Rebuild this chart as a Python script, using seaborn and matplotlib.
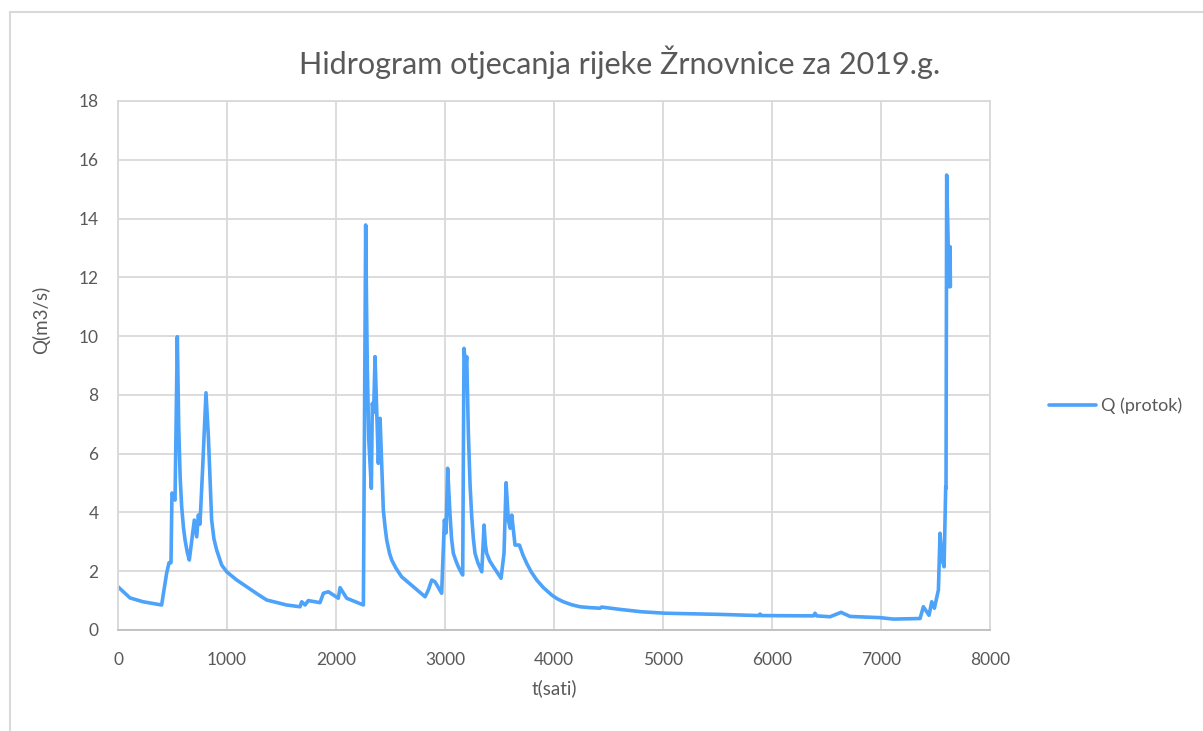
import matplotlib
matplotlib.use("Agg")
import matplotlib.pyplot as plt
import seaborn as sns
import pandas as pd
from matplotlib.patches import Rectangle

# hourly flow readings
t_sati = [0, 110, 230, 400, 446, 468, 486, 495, 523, 544, 557, 570, 584, 600,
          615, 635, 654, 700, 722, 737, 752, 777, 807, 829, 859, 880, 905, 951,
          997, 1089, 1200, 1300, 1364, 1547, 1670, 1685, 1716, 1746, 1853,
          1884, 1930, 2021, 2037, 2098, 2251, 2272, 2280, 2287, 2300, 2324,
          2333, 2345, 2358, 2373, 2388, 2404, 2419, 2434, 2450, 2465, 2490,
          2511, 2550, 2602, 2709, 2817, 2847, 2878, 2908, 2969, 2994, 3009,
          3024, 3045, 3060, 3076, 3100, 3122, 3145, 3162, 3174, 3190, 3199,
          3214, 3230, 3245, 3260, 3275, 3300, 3337, 3358, 3370, 3382, 3410,
          3444, 3480, 3514, 3541, 3560, 3581, 3597, 3612, 3642, 3682, 3715,
          3749, 3790, 3841, 3900, 3978, 4030, 4085, 4160, 4238, 4330, 4422,
          4437, 4606, 4800, 5018, 5523, 5880, 5890, 5900, 6380, 6394, 6410,
          6532, 6633, 6716, 6991, 7113, 7358, 7388, 7440, 7465, 7489, 7526,
          7541, 7560, 7578, 7593, 7596, 7602, 7624, 7633, 7636]
q_protok = [1.47, 1.09, 0.96, 0.85, 1.93, 2.29, 2.29, 4.66, 4.42, 9.98, 6.9,
            5.2, 4.2, 3.5, 3.06, 2.65, 2.38, 3.74, 3.17, 3.91, 3.6, 5.56, 8.07,
            6.58, 3.74, 3.1, 2.72, 2.21, 1.98, 1.70, 1.42, 1.17, 1.02, 0.85,
            0.79, 0.96, 0.85, 1.0, 0.93, 1.25, 1.30, 1.08, 1.44, 1.08, 0.85,
            13.78, 11.0, 8.96, 6.5, 4.82, 7.71, 7.4, 9.30, 7.5, 5.67, 7.2,
            5.67, 4.08, 3.5, 3.06, 2.62, 2.38, 2.1, 1.81, 1.47, 1.13, 1.36,
            1.70, 1.64, 1.25, 3.74, 3.3, 5.50, 3.97, 3.1, 2.61, 2.35, 2.15,
            1.98, 1.87, 9.58, 8.96, 9.30, 6.69, 4.9, 3.85, 3.1, 2.61, 2.3,
            1.98, 3.57, 2.9, 2.61, 2.35, 2.15, 1.95, 1.76, 2.61, 5.01, 3.74,
            3.46, 3.91, 2.89, 2.89, 2.55, 2.27, 1.98, 1.70, 1.45, 1.19, 1.06,
            0.96, 0.86, 0.79, 0.76, 0.74, 0.78, 0.70, 0.62, 0.57, 0.53, 0.49,
            0.54, 0.49, 0.48, 0.57, 0.48, 0.45, 0.60, 0.46, 0.42, 0.37, 0.39,
            0.79, 0.5, 0.96, 0.74, 1.36, 3.29, 2.4, 2.15, 4.87, 4.82, 15.48,
            11.68, 13.04, 11.68]

df = pd.DataFrame({"t(sati)": t_sati, "Q (protok)": q_protok})

sns.set_style("whitegrid")
plt.rcParams['font.family'] = ['Lato', 'DejaVu Sans']

grid_col = '#d9d9d9'
text_col = '#595959'

fig = plt.figure(figsize=(12.03, 7.31), dpi=100)
ax = fig.add_axes([0.0981, 0.1382, 0.7249, 0.7237])

sns.lineplot(data=df, x="t(sati)", y="Q (protok)", ax=ax, color='#4da3fa',
             linewidth=2.6, label='Q (protok)')

ax.set_xlim(0, 8000)
ax.set_ylim(0, 18)
ax.set_xticks(range(0, 8001, 1000))
ax.set_yticks(range(0, 19, 2))
ax.grid(True, color=grid_col, linewidth=1.3)
for s in ax.spines.values():
    s.set_color(grid_col)
    s.set_linewidth(1.3)
ax.spines['bottom'].set_color('#bfbfbf')
ax.tick_params(axis='both', labelsize=12.5, colors=text_col, length=0)
ax.tick_params(axis='y', pad=14)
ax.tick_params(axis='x', pad=16)

fig.text(620 / 1203, 1 - 62 / 731,
         'Hidrogram otjecanja rijeke Žrnovnice za 2019.g.',
         fontsize=22, color=text_col, ha='center', va='center')
ax.set_xlabel('t(sati)', fontsize=13.5, color=text_col, labelpad=8)
ax.set_ylabel('Q(m3/s)', fontsize=13.5, color=text_col)
ax.yaxis.set_label_coords(-0.078, 0.586)

ax.legend(loc='center left', bbox_to_anchor=(1049 / 1203, 1 - 406 / 731),
          bbox_transform=fig.transFigure, frameon=False, borderpad=0,
          borderaxespad=0, fontsize=13, labelcolor=text_col,
          handlelength=2.6, handletextpad=0.3)

# chart frame as in the spreadsheet export
fig.patches.append(Rectangle((10 / 1203, -0.1), 1.2, 1 - 12 / 731 + 0.1,
                             transform=fig.transFigure, fill=False,
                             edgecolor=grid_col, linewidth=1.5))

fig.savefig('out.png', dpi=100)
